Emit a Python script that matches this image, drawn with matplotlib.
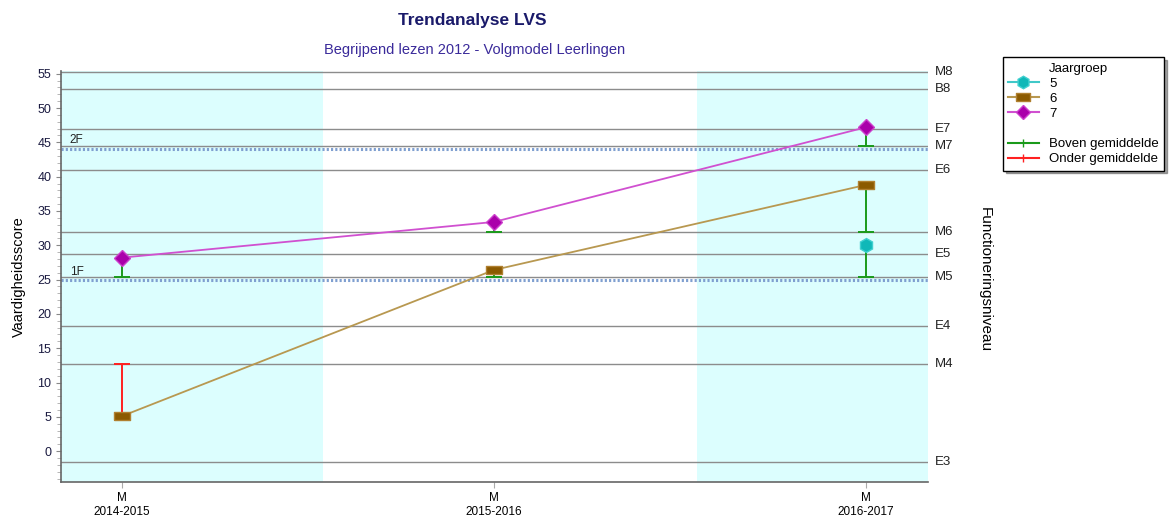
import numpy as np
import matplotlib
matplotlib.use('Agg')
import matplotlib.pyplot as plt
from matplotlib.lines import Line2D

plt.rcParams['font.family'] = ['Liberation Sans', 'DejaVu Sans']

# schooljaren (x-as)
years = ['2014-2015', '2015-2016', '2016-2017']
x = np.arange(len(years))

# vaardigheidsscores per jaargroep
g5 = [np.nan, np.nan, 30.1]
g6 = [5.1, 26.4, 38.8]
g7 = [28.2, 33.4, 47.2]

# referentieniveau waar de foutbalk naartoe loopt
g5_ref = [np.nan, np.nan, 25.4]
g6_ref = [12.75, 25.4, 32.0]
g7_ref = [25.4, 32.0, 44.4]

# functioneringsniveaus (rechter as)
level_names = ['E3', 'M4', 'E4', 'M5', 'E5', 'M6', 'E6', 'M7', 'E7', 'B8', 'M8']
level_values = [-1.6, 12.75, 18.3, 25.4, 28.7, 32.0, 41.0, 44.4, 47.0, 52.8, 55.3]

# referentieniveaus 1F / 2F
ref_names = ['1F', '2F']
ref_values = [24.9, 44.05]

fig = plt.figure(figsize=(11.7, 5.16), dpi=100)
ax = fig.add_axes([0.0521, 0.0659, 0.7411, 0.7965])

xmin, xmax = -0.164, 2.167
ymin, ymax = -4.5, 55.4
ax.set_xlim(xmin, xmax)
ax.set_ylim(ymin, ymax)

# achtergrondvlakken
ax.axvspan(xmin, 0.54, color='#dcfefe', lw=0, zorder=0)
ax.axvspan(1.546, xmax, color='#dcfefe', lw=0, zorder=0)

for name, val in zip(level_names, level_values):
    ax.axhline(val, color='#8c8c8c', lw=1, zorder=1)
    ax.text(1.008, val, name, transform=ax.get_yaxis_transform(),
            va='center', ha='left', fontsize=9.5, color='#222222')

for name, val in zip(ref_names, ref_values):
    ax.axhline(val, color='#7f9fd0', lw=2.2, ls=(0, (0.7, 0.7)), zorder=1.5)
    ax.text(0.01, val + 0.4, name, transform=ax.get_yaxis_transform(),
            va='bottom', ha='left', fontsize=8.5, color='#222222')

green = '#1a9a1a'
red = '#ff2020'


def draw_bars(vals, refs):
    # lijn van het punt naar het referentieniveau, met dwarsstreep aan het eind
    for xi, v, r in zip(x, vals, refs):
        if np.isnan(v):
            continue
        c = green if v >= r else red
        ax.plot([xi, xi], [v, r], color=c, lw=1.4, zorder=2)
        ax.plot([xi], [r], color=c, marker='_', ms=11, mew=1.4, zorder=2)


draw_bars(g5, g5_ref)
draw_bars(g6, g6_ref)
draw_bars(g7, g7_ref)

rect = [(-1, -0.55), (1, -0.55), (1, 0.55), (-1, 0.55), (-1, -0.55)]

ax.plot(x, g5, color='#40c8c8', lw=1.2, marker='h', ms=10,
        mfc='#10b8b8', mec='#40d0d0', zorder=3)
ax.plot(x, g6, color='#b89850', lw=1.3, marker=rect, ms=11,
        mfc='#8b5a00', mec='#b08030', zorder=3)
ax.plot(x, g7, color='#d050d0', lw=1.3, marker='D', ms=8,
        mfc='#aa00aa', mec='#cc40cc', zorder=3)

# assen
ax.set_xticks(x)
ax.set_xticklabels(['M\n' + y for y in years], fontsize=8.5)
ax.set_yticks(np.arange(0, 56, 5))
ax.set_yticks(np.arange(-4, 56, 1), minor=True)
ax.tick_params(axis='y', labelsize=9, labelcolor='#1a1a40', color='#888888')
ax.tick_params(axis='y', which='minor', length=3, color='#aaaaaa')
ax.tick_params(axis='x', color='#aaaaaa', length=4)
for s in ['top', 'right']:
    ax.spines[s].set_visible(False)
for s in ['left', 'bottom']:
    ax.spines[s].set_color('#666666')
    ax.spines[s].set_linewidth(1.2)

ax.set_ylabel('Vaardigheidsscore', fontsize=10.5, labelpad=8)
fig.text(985 / 1170, 1 - 280 / 516, 'Functioneringsniveau', rotation=270,
         va='center', ha='center', fontsize=11)

fig.text(472 / 1170, 1 - 20 / 516, 'Trendanalyse LVS', ha='center',
         va='center', fontsize=12.5, fontweight='bold', color='#1a1a6a')
fig.text(475 / 1170, 1 - 50 / 516, 'Begrijpend lezen 2012 - Volgmodel Leerlingen',
         ha='center', va='center', fontsize=10.5, color='#3a2a9a')

# legenda
handles = [
    Line2D([], [], color='none'),
    Line2D([], [], color='#40c8c8', marker='h', ms=9, mfc='#10b8b8', mec='#40d0d0'),
    Line2D([], [], color='#b89850', marker=rect, ms=10, mfc='#8b5a00', mec='#b08030'),
    Line2D([], [], color='#d050d0', marker='D', ms=7, mfc='#aa00aa', mec='#cc40cc'),
    Line2D([], [], color='none'),
    Line2D([], [], color=green, marker='|', ms=6),
    Line2D([], [], color=red, marker='|', ms=6),
]
labels = ['Jaargroep', '5', '6', '7', '', 'Boven gemiddelde', 'Onder gemiddelde']
leg = fig.legend(handles, labels, loc='upper left',
                 bbox_to_anchor=(1003 / 1170, 1 - 57 / 516),
                 fontsize=9.5, frameon=True, fancybox=False, shadow=True,
                 labelspacing=0.22, handlelength=2.3, borderpad=0.4,
                 handletextpad=0.8, borderaxespad=0)
leg.get_frame().set_edgecolor('black')
leg.get_frame().set_linewidth(1)

fig.savefig('out.png', dpi=100)
